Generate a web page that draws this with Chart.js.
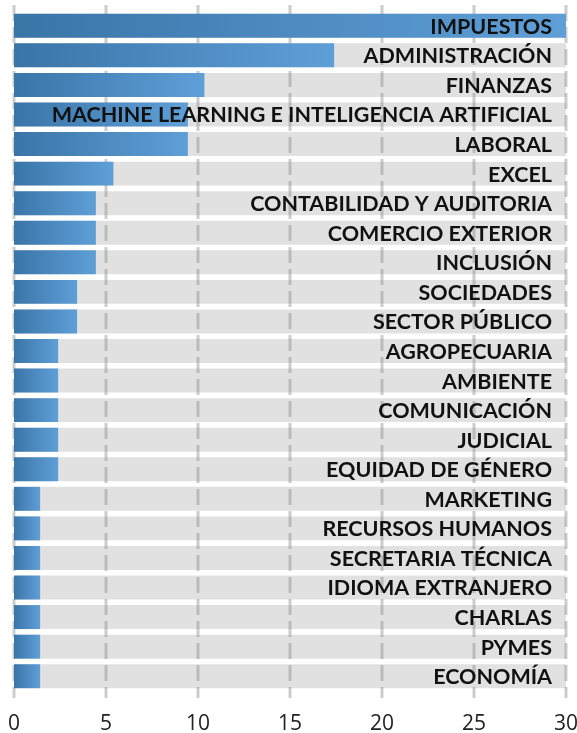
<!DOCTYPE html>
<html>
<head>
<meta charset="utf-8">
<script src="https://cdn.jsdelivr.net/npm/chart.js@4.4.0/dist/chart.umd.min.js"></script>
<style>
    html, body { margin: 0; padding: 0; background: #fff; }
    canvas { display: block; }
</style>
</head>
<body>
<canvas id="chart" width="577" height="733"></canvas>
<script>
const categories = [
    'IMPUESTOS', 'ADMINISTRACIÓN', 'FINANZAS', 'MACHINE LEARNING E INTELIGENCIA ARTIFICIAL',
    'LABORAL', 'EXCEL', 'CONTABILIDAD Y AUDITORIA', 'COMERCIO EXTERIOR', 'INCLUSIÓN',
    'SOCIEDADES', 'SECTOR PÚBLICO', 'AGROPECUARIA', 'AMBIENTE', 'COMUNICACIÓN', 'JUDICIAL',
    'EQUIDAD DE GÉNERO', 'MARKETING', 'RECURSOS HUMANOS', 'SECRETARIA TÉCNICA',
    'IDIOMA EXTRANJERO', 'CHARLAS', 'PYMES', 'ECONOMÍA'
];
const values = [
    30, 17.4, 10.35, 9.45, 9.45, 5.4, 4.45, 4.45, 4.45, 3.43, 3.43,
    2.4, 2.4, 2.4, 2.4, 2.4, 1.42, 1.42, 1.42, 1.42, 1.42, 1.42, 1.42
];
const trackValues = [
    30, 30, 30, 30, 30, 30, 30, 30, 30, 30, 30, 30,
    30, 30, 30, 30, 30, 30, 30, 30, 30, 30, 30
];
const xTicks = [0, 5, 10, 15, 20, 25, 30];

// grille pointillée : au-dessus des barres grises, sous les barres bleues
const gridPlugin = {
    id: 'dashedGrid',
    beforeDatasetDraw(chart, args) {
        if (args.index !== 0) return;
        const { ctx, chartArea, scales } = chart;
        ctx.save();
        ctx.strokeStyle = 'rgba(140, 145, 145, 0.45)';
        ctx.lineWidth = 3;
        ctx.setLineDash([16, 6]);
        xTicks.forEach(t => {
            const x = Math.round(scales.x.getPixelForValue(t));
            ctx.beginPath();
            ctx.moveTo(x, chartArea.top - 6);
            ctx.lineTo(x, chartArea.bottom + 7);
            ctx.stroke();
        });
        ctx.restore();
    }
};

// libellés alignés à droite dans la zone du graphique
const labelPlugin = {
    id: 'rowLabels',
    afterDatasetsDraw(chart) {
        const { ctx, scales } = chart;
        ctx.save();
        ctx.font = 'bold 21.5px Lato';
        ctx.fillStyle = '#111';
        ctx.textAlign = 'right';
        ctx.textBaseline = 'middle';
        categories.forEach((label, i) => {
            ctx.fillText(label, 552, scales.y.getPixelForValue(i) + 1);
        });
        ctx.restore();
    }
};

function barGradient(context) {
    const chart = context.chart;
    if (!chart.chartArea) return '#4a88be';
    const x0 = chart.scales.x.getPixelForValue(0);
    const x1 = chart.scales.x.getPixelForValue(context.raw);
    const g = chart.ctx.createLinearGradient(x0, 0, x1, 0);
    g.addColorStop(0, '#3a75a8');
    g.addColorStop(1, '#5f9fd7');
    return g;
}

new Chart(document.getElementById('chart'), {
    type: 'bar',
    data: {
        labels: categories,
        datasets: [{
            data: values,
            backgroundColor: barGradient,
            order: 0
        }, {
            data: trackValues,
            backgroundColor: '#e1e1e1',
            order: 1
        }]
    },
    options: {
        indexAxis: 'y',
        responsive: false,
        animation: false,
        layout: {
            padding: { left: 14, right: 11, top: 11, bottom: 0 }
        },
        datasets: {
            bar: {
                grouped: false,
                barPercentage: 0.81,
                categoryPercentage: 1,
                borderWidth: 0
            }
        },
        plugins: {
            legend: { display: false },
            tooltip: { enabled: false }
        },
        scales: {
            x: {
                min: 0,
                max: 30,
                grid: { display: false, drawTicks: false },
                border: { display: false },
                ticks: {
                    stepSize: 5,
                    padding: 20,
                    color: '#222',
                    font: { family: 'Open Sans', size: 21 }
                },
                afterFit(scale) {
                    scale.height = 42;
                    scale.paddingLeft = 0;
                    scale.paddingRight = 0;
                }
            },
            y: {
                display: false
            }
        }
    },
    plugins: [gridPlugin, labelPlugin]
});
</script>
</body>
</html>
